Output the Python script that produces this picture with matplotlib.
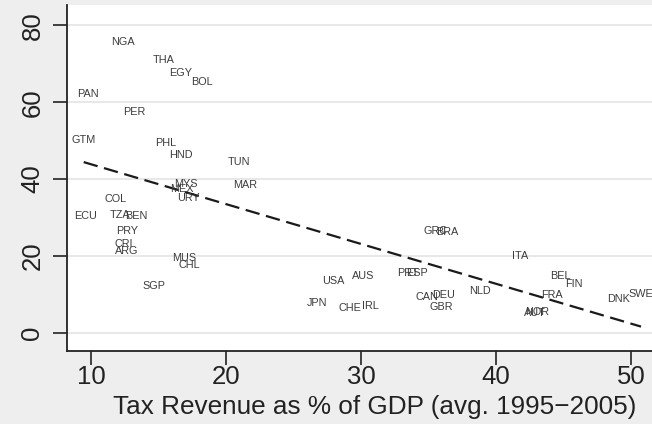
import numpy as np
import matplotlib
matplotlib.use("Agg")
import matplotlib.pyplot as plt

# country codes, tax revenue (% of GDP) and outcome value
countries = ["NGA", "THA", "EGY", "BOL", "PAN", "PER", "GTM", "PHL", "HND", "TUN",
             "MYS", "MEX", "URY", "MAR", "COL", "ECU", "TZA", "BEN", "PRY", "CRI",
             "ARG", "MUS", "CHL", "SGP", "GRC", "BRA", "USA", "AUS", "PRT", "ESP",
             "JPN", "CHE", "IRL", "CAN", "DEU", "GBR", "NLD", "ITA", "BEL", "FIN",
             "FRA", "AUT", "NOR", "DNK", "SWE"]
tax_rev = [12.36, 15.41, 16.61, 18.22, 9.80, 13.24, 9.46, 15.51, 16.67, 20.96,
           17.01, 16.72, 17.24, 21.43, 11.83, 9.61, 12.15, 13.33, 12.64, 12.39,
           12.64, 16.89, 17.26, 14.69, 35.53, 36.39, 27.95, 30.20, 33.50, 34.13,
           26.74, 29.21, 30.67, 34.91, 36.10, 35.97, 38.81, 41.78, 44.81, 45.80,
           44.17, 42.90, 43.05, 49.06, 50.75]
outcome = [75.8, 70.96, 67.7, 65.3, 62.2, 57.4, 50.1, 49.4, 46.3, 44.4,
           38.6, 37.3, 35.1, 38.4, 34.7, 30.5, 30.7, 30.5, 26.4, 23.2,
           21.3, 19.4, 17.6, 12.3, 26.5, 26.2, 13.45, 14.8, 15.6, 15.45,
           7.8, 6.4, 6.95, 9.2, 9.8, 6.6, 11.0, 19.96, 14.75, 12.6,
           9.9, 5.1, 5.3, 8.7, 10.1]

# fitted line y = a + b*x over the range of the data
fit_intercept = 54.24
fit_slope = -1.037

xticks = [10, 20, 30, 40, 50]
yticks = [0, 20, 40, 60, 80]

plt.rcParams["font.family"] = ["Liberation Sans", "DejaVu Sans"]

fig = plt.figure(figsize=(6.52, 4.24), dpi=100)
fig.patch.set_facecolor("#eeeeee")
ax = fig.add_axes([0.1023, 0.172, 0.92, 0.816])
ax.set_facecolor("white")

ax.set_xlim(8.2, 52.64)
ax.set_ylim(-4.76, 85.3)

# horizontal grid
for yv in yticks:
    ax.axhline(yv, color="#e4e4e4", lw=1.2, zorder=0)

# country labels centred on their points
for name, xv, yv in zip(countries, tax_rev, outcome):
    ax.text(xv, yv, name, ha="center", va="center", fontsize=7.8,
            color="#3c3c3c", zorder=3)

# linear fit
fx = np.array([min(tax_rev), max(tax_rev)])
ax.plot(fx, fit_intercept + fit_slope * fx, color="#1a1a1a", lw=1.6,
        linestyle=(0, (6.5, 3)), zorder=2)

ax.set_xticks(xticks)
ax.set_yticks(yticks)
ax.tick_params(axis="both", length=10, width=1.2, color="#222222",
               labelsize=18.5, labelcolor="#222222")
ax.tick_params(axis="y", labelrotation=90, pad=6)
ax.tick_params(axis="x", pad=0)
for lab in ax.get_yticklabels():
    lab.set_va("center")

ax.set_xlabel("Tax Revenue as % of GDP (avg. 1995\u22122005)", fontsize=18.8,
              color="#222222")
# the title of the x axis sits a little right of the axes centre
ax.xaxis.set_label_coords(0.514, -0.128)

for side in ["top", "right"]:
    ax.spines[side].set_visible(False)
for side in ["left", "bottom"]:
    ax.spines[side].set_linewidth(1.3)
    ax.spines[side].set_color("#222222")

fig.savefig("out.png", dpi=100, facecolor=fig.get_facecolor())
